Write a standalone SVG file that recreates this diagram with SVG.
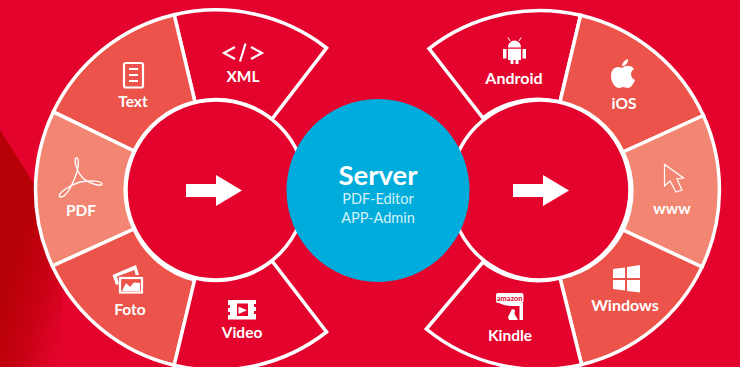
<svg xmlns="http://www.w3.org/2000/svg" width="740" height="367" viewBox="0 0 740 367">
<defs>
<linearGradient id="dark" gradientUnits="userSpaceOnUse" x1="0" y1="300" x2="70" y2="320"><stop offset="0" stop-color="#b50006"/><stop offset="0.5" stop-color="#c80214"/><stop offset="1" stop-color="#e4032c"/></linearGradient>
</defs>
<style>
.seg{stroke:#fff;stroke-width:3.5;stroke-linejoin:miter}
.red{fill:#e4032c}.mid{fill:#ec534a}.light{fill:#f28672}
.lbl{font-family:"Lato","Liberation Sans",sans-serif;font-weight:700;font-size:15.5px;fill:#fff;text-anchor:middle}
.ic{fill:none;stroke:#fff;stroke-width:2.2}
.wh{fill:#fff}
.hub{fill:#e4032c;stroke:#fff;stroke-width:3.5}
.sub{font-family:"Lato","Liberation Sans",sans-serif;font-size:14.5px;fill:#d4f1fa;text-anchor:middle}
</style>
<rect width="740" height="367" fill="#e4032c"/>
<polygon points="0,130 62,228 62,367 0,367" fill="url(#dark)"/>
<g id="xml">
<path class="seg red" d="M174.200,14.800A180,180 0 0 1 326.500,48L272,119A90,90 0 0 0 195,102Z"/>
<path class="ic" d="M235,47L224,53L235,59M251,47L262,53L251,59M245.500,43.500L240,61.500"/>
<text class="lbl" x="243" y="82">XML</text>
</g>
<g id="text">
<path class="seg mid" d="M174.200,14.800A180,180 0 0 0 53.300,111.900L134,151A90,90 0 0 1 195,102Z"/>
<rect class="ic" x="124" y="63" width="19" height="24.500" rx="2"/>
<path class="ic" d="M129,69H138M129,75H138M129,81H138"/>
<text class="lbl" x="133" y="107">Text</text>
</g>
<g id="pdf">
<path class="seg light" d="M53.300,111.900A180,180 0 0 0 52.400,266L134,229A90,90 0 0 1 134,151Z"/>
<path fill="none" stroke="#fff" stroke-width="1.400" d="M60,197C66,198 72,186 77,172C79,165 79,157 76,158C74,160 76,172 84,179C90,184 102,187 102,184C102,181 90,180 80,182C70,185 56,194 60,197Z"/>
<text class="lbl" x="81" y="216">PDF</text>
</g>
<g id="foto">
<path class="seg mid" d="M52.400,266A180,180 0 0 0 174.200,365.200L195,280A90,90 0 0 1 134,229Z"/>
<path class="wh" d="M112.500,275L136,265L139,275H135.500L134.500,270L117,276.500L119,284L116,285Z"/>
<rect class="ic" x="120" y="278" width="22" height="14.500"/>
<path class="wh" d="M122,291L126,283L130,287L134,282.500L140,283V291Z"/>
<text class="lbl" x="130" y="315">Foto</text>
</g>
<g id="video">
<path class="seg red" d="M174.200,365.200A180,180 0 0 0 326.500,332L272,261A90,90 0 0 1 195,278Z"/>
<path class="wh" fill-rule="evenodd" d="M228,300H256V304H254V307H256V311H254V314H256V319.500H228V315H230V312H228V308H230V305H228ZM237,303.500V316H248V303.500Z"/>
<path class="wh" d="M238.500,306.500V314L247,310.300Z"/>
<text class="lbl" x="242" y="338">Video</text>
</g>
<g id="android">
<path class="seg red" d="M580.600,15.200A180,180 0 0 0 429,48.600L483,118A90,90 0 0 1 560,102Z"/>
<path class="wh" d="M508,47.500A6.500,7 0 0 1 521,47.500ZM508,48.800H521V60H518.500V64H515.500V60H513.500V64H510.500V60H508ZM503,49H506.500V58.500H503ZM522.500,49H526V58.500H522.500Z"/>
<path stroke="#fff" stroke-width="1" d="M510,41L508,37.500M519,41L521,37.500"/>
<text class="lbl" x="514" y="84" style="font-size:16px">Android</text>
</g>
<g id="ios">
<path class="seg mid" d="M580.600,15.200A180,180 0 0 1 703.400,115.500L623,152A90,90 0 0 0 560,102Z"/>
<path class="wh" d="M622,68C616,65 611,69 611,76C611,82 615,88 619,88C621,88 622,87 623,87C625,87 626,88 628,88C631,88 634,83 635,80C630,78 630,71 634,69C631,65 626,65 622,68ZM622,66C622,63 625,60 628,59C628,63 626,66 622,66Z"/>
<text class="lbl" x="624" y="109">iOS</text>
</g>
<g id="www">
<path class="seg light" d="M703.400,115.500A180,180 0 0 1 702,267L623,230A90,90 0 0 0 623,152Z"/>
<path fill="none" stroke="#fff" stroke-width="1.200" d="M664.500,164.500V186L670,181L676,192L682,190L677,179L683.500,178Z"/>
<text class="lbl" x="672" y="214">www</text>
</g>
<g id="windows">
<path class="seg mid" d="M702,267A180,180 0 0 1 581.600,364.600L560,278A90,90 0 0 0 623,230Z"/>
<path class="wh" d="M613,269L625,267.500V278H613ZM627,267L640,265V278H627ZM613,280H625V290.500L613,289ZM627,280H640V292.500L627,291Z"/>
<text class="lbl" x="625" y="311" style="font-size:16px">Windows</text>
</g>
<g id="kindle">
<path class="seg red" d="M581.600,364.600A180,180 0 0 1 426.300,329L483,262A90,90 0 0 0 560,278Z"/>
<rect class="wh" x="496" y="293" width="27.500" height="10" rx="2"/>
<text x="509.700" y="300.500" font-family="Lato,'Liberation Sans',sans-serif" font-weight="700" font-size="7.500" fill="#e4032c" text-anchor="middle">amazon</text>
<path class="wh" d="M499,303H523V320H519.500V306H512Q504,306 499,303ZM508,317L512,309L515,310L514.500,314L518,320H511L509,320Z"/>
<text class="lbl" x="510" y="341">Kindle</text>
</g>
<g id="connectors">
<circle class="hub" cx="216" cy="190" r="90"/>
<circle class="hub" cx="540" cy="190" r="90"/>
<path class="wh" d="M186,184H216V175L242,190.500L216,206V197H186Z"/>
<path class="wh" d="M513,184H543V175L569,190.500L543,206V197H513Z"/>
</g>
<g id="server">
<circle cx="378" cy="190.500" r="91.500" fill="#00acdb"/>
<text x="378" y="185" font-family="Lato,'Liberation Sans',sans-serif" font-weight="700" font-size="27.500" fill="#fff" text-anchor="middle">Server</text>
<text class="sub" x="378" y="204">PDF-Editor</text>
<text class="sub" x="378" y="223">APP-Admin</text>
</g>
</svg>
